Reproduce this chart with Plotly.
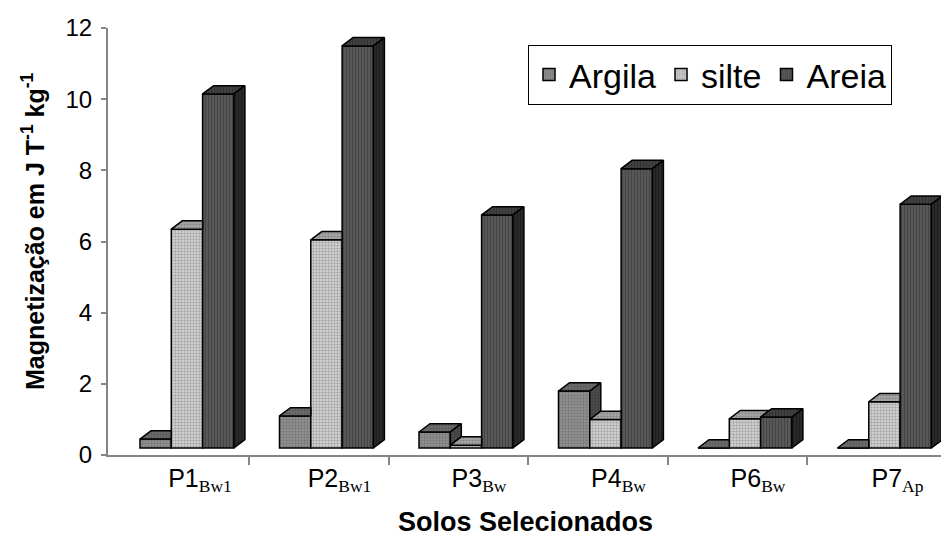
import plotly.graph_objects as go

# ---------------- data ----------------
categories = ["P1", "P2", "P3", "P4", "P6", "P7"]
horizons = ["Bw1", "Bw1", "Bw", "Bw", "Bw", "Ap"]
series_names = ["Argila", "silte", "Areia"]
argila = [0.25, 0.90, 0.45, 1.60, 0.0, 0.0]
silte = [6.15, 5.85, 0.08, 0.80, 0.82, 1.30]
areia = [9.95, 11.30, 6.55, 7.85, 0.87, 6.85]
y_ticks = [0, 2, 4, 6, 8, 10, 12]

series_values = [argila, silte, areia]

# ---------------- style / geometry ----------------
BAR_W = 0.2244      # width of one bar (category units)
GROUP_OFF = -0.337  # offset of first bar from category centre
DX = 0.0789         # 3D depth offset in x (category units)
DY = 0.233          # 3D depth offset in y (value units)
BASE = 0.197        # front face floor lift

FONT = "Liberation Sans, Arial, sans-serif"
AXIS_GRAY = "#858585"

styles = [
    dict(front=dict(shape=".", bgcolor="#8e8e8e", fgcolor="#5a5a5a", size=3, solidity=0.3),
         top=dict(shape=".", bgcolor="#6a6a6a", fgcolor="#444444", size=3, solidity=0.3),
         side=dict(shape=".", bgcolor="#4a4a4a", fgcolor="#2e2e2e", size=3, solidity=0.3)),
    dict(front=dict(shape=".", bgcolor="#dcdcdc", fgcolor="#6e6e6e", size=3, solidity=0.5),
         top=dict(shape=".", bgcolor="#a8a8a8", fgcolor="#606060", size=3, solidity=0.4),
         side=dict(shape=".", bgcolor="#727272", fgcolor="#404040", size=3, solidity=0.4)),
    dict(front=dict(shape="|", bgcolor="#5c5c5c", fgcolor="#2c2c2c", size=3, solidity=0.45),
         top=dict(shape="|", bgcolor="#424242", fgcolor="#222222", size=3, solidity=0.4),
         side=dict(shape="|", bgcolor="#2a2a2a", fgcolor="#111111", size=3, solidity=0.4)),
]

n_cat = len(categories)
xpos = list(range(n_cat))

fig = go.Figure()

# front faces as bars
for s, (name, vals) in enumerate(zip(series_names, series_values)):
    fig.add_trace(go.Bar(
        x=xpos, y=vals, base=[BASE] * n_cat, name=name,
        width=[BAR_W] * n_cat, offset=[GROUP_OFF + s * BAR_W] * n_cat,
        marker=dict(color=styles[s]["front"]["bgcolor"],
                    pattern=styles[s]["front"],
                    line=dict(color="black", width=1.5)),
        hoverinfo="skip",
    ))


def add_poly(xs, ys, pts):
    for (px, py) in pts:
        xs.append(px)
        ys.append(py)
    xs.append(pts[0][0])
    ys.append(pts[0][1])
    xs.append(None)
    ys.append(None)


# top and side faces (visible parts) derived from the data
for s, vals in enumerate(series_values):
    tx, ty, sx, sy = [], [], [], []
    for i in range(n_cat):
        x0 = xpos[i] + GROUP_OFF + s * BAR_W
        x1 = x0 + BAR_W
        b = BASE
        t = BASE + vals[i]
        tr = BASE + series_values[s + 1][i] if s + 1 < len(series_values) else None
        # top face
        if tr is None or tr <= t:
            top = [(x0, t), (x1, t), (x1 + DX, t + DY), (x0 + DX, t + DY)]
        else:
            trc = min(tr, t + DY)
            top = [(x0, t), (x1, t), (x1, trc),
                   (x1 + (t + DY - trc) * DX / DY, t + DY), (x0 + DX, t + DY)]
        add_poly(tx, ty, top)
        # side face
        if tr is None:
            add_poly(sx, sy, [(x1, b), (x1 + DX, b + DY), (x1 + DX, t + DY), (x1, t)])
        elif t > tr:
            add_poly(sx, sy, [(x1, tr), (x1 + DX, tr + DY), (x1 + DX, t + DY), (x1, t)])
    for xs, ys, key in ((tx, ty, "top"), (sx, sy, "side")):
        if not xs:
            continue
        fig.add_trace(go.Scatter(
            x=xs, y=ys, mode="lines", fill="toself",
            fillcolor=styles[s][key]["bgcolor"],
            fillpattern=styles[s][key],
            line=dict(color="black", width=1.5),
            showlegend=False, hoverinfo="skip",
        ))

# ---------------- axes ----------------
PLOT_L, PLOT_R, PLOT_T, PLOT_B = 108, 941, 28, 455
CAT_PX = 139.5
CENTER0 = 187.0
x_lo = (PLOT_L - CENTER0) / CAT_PX
x_hi = (PLOT_R - CENTER0) / CAT_PX
boundaries = [i + (249.3 - CENTER0) / CAT_PX for i in range(n_cat - 1)]
label_pos = [i + 13.0 / CAT_PX for i in xpos]
tick_text = [
    f"{c}<sub><span style='font-family:Liberation Serif,serif'>{h}</span></sub>"
    for c, h in zip(categories, horizons)
]

fig.update_layout(
    width=941, height=543,
    margin=dict(l=PLOT_L, r=941 - PLOT_R, t=PLOT_T, b=543 - PLOT_B, pad=0),
    paper_bgcolor="white", plot_bgcolor="white",
    font=dict(family=FONT, color="black", size=22),
    barmode="overlay",
    showlegend=True,
    legend=dict(orientation="h", x=(528 - PLOT_L) / (PLOT_R - PLOT_L),
                y=(PLOT_B - 45) / (PLOT_B - PLOT_T), xanchor="left", yanchor="top",
                bordercolor="black", borderwidth=1, bgcolor="white",
                font=dict(family=FONT, size=34), itemwidth=30,
                traceorder="normal"),
    xaxis=dict(range=[x_lo, x_hi], showgrid=False, zeroline=False,
               showline=True, linecolor=AXIS_GRAY, linewidth=2,
               tickmode="array", tickvals=label_pos, ticktext=tick_text,
               ticks="", tickfont=dict(family=FONT, size=25),
               minor=dict(ticks="outside", tickmode="array", tickvals=boundaries,
                          ticklen=8, tickwidth=1.5, tickcolor=AXIS_GRAY, showgrid=False),
               fixedrange=True),
    yaxis=dict(range=[0, 12], showgrid=False, zeroline=False,
               showline=True, linecolor=AXIS_GRAY, linewidth=2,
               tickmode="array", tickvals=y_ticks, ticks="outside",
               ticklen=5, tickwidth=1.5, tickcolor=AXIS_GRAY,
               tickfont=dict(family=FONT, size=24), ticklabelstandoff=4,
               fixedrange=True),
    annotations=[
        dict(text="<b>Solos Selecionados</b>", xref="paper", yref="paper",
             x=(525 - PLOT_L) / (PLOT_R - PLOT_L), y=(PLOT_B - 522) / (PLOT_B - PLOT_T),
             xanchor="center", yanchor="middle", showarrow=False,
             font=dict(family=FONT, size=27)),
        dict(text="<b>Magnetização em J T<sup>-1</sup> kg<sup>-1</sup></b>",
             xref="paper", yref="paper",
             x=(33 - PLOT_L) / (PLOT_R - PLOT_L), y=(PLOT_B - 231) / (PLOT_B - PLOT_T),
             xanchor="center", yanchor="middle", textangle=-90, showarrow=False,
             font=dict(family=FONT, size=25)),
    ],
)

fig.write_html("out.html")
